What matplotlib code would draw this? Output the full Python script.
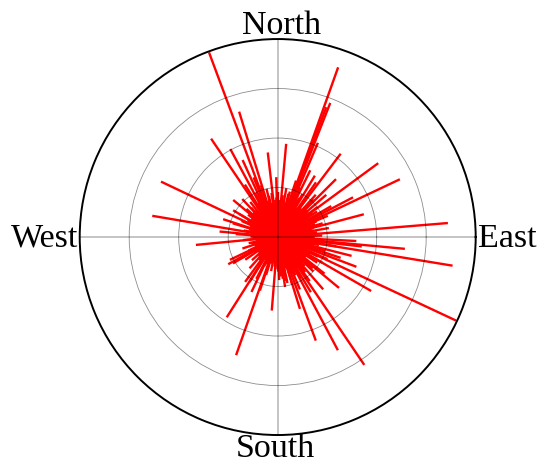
import numpy as np
import matplotlib
matplotlib.use("Agg")
import matplotlib.pyplot as plt

# Direction (degrees, counter-clockwise from East) and magnitude of each vector
long_angles = [110.4, 70.4, 68.6, 69.5, 66.9, 84.8, 52.9, 36.3, 25.3, 44.8,
               58.8, 27.8, 14.8, 4.7, 96.7, 91.4, 107.1, 124.1, 118.3, 114.5,
               154.6, 170.4, 140.2, 174.6, 161.9, 185.5, 208.8, 210.0, 237.6, 250.6,
               265.4, 287.2, 290.2, 298.0, 234.0, 244.5, 251.6, 272.0, 278.4, 304.1,
               334.9, 350.7, 354.7, 330.0, 320.3, 339.3, 353.6, 357.1, 341.7, 345.7,
               205.5, 210.5, 238.0, 149.0, 282.0]
long_mags = [3.98, 3.64, 2.91, 2.80, 2.07, 1.89, 2.11, 2.52, 2.73, 1.66,
             1.45, 1.72, 1.80, 3.45, 1.72, 1.21, 2.65, 2.40, 2.02, 1.71,
             2.61, 2.57, 1.17, 1.18, 1.16, 1.66, 1.14, 0.88, 1.92, 2.53,
             1.49, 1.52, 2.23, 2.59, 1.12, 1.23, 1.14, 0.87, 1.02, 3.12,
             3.98, 3.58, 2.58, 2.18, 1.61, 1.70, 1.71, 1.59, 1.34, 1.54,
             1.07, 1.05, 1.07, 1.05, 0.95]

short_angles = [2, 5, 8, 10, 12, 15, 17, 19, 21, 23, 26, 28, 30, 32, 34, 37, 39, 41,
                43, 46, 48, 50, 53, 55, 57, 60, 62, 64, 66, 72, 74, 76, 78, 80, 82,
                86, 88,
                92, 95, 98, 100, 103, 105, 108, 110, 112, 115, 117, 120, 122, 125,
                128, 130, 133, 136, 138, 143, 146, 149, 152, 156, 159, 163, 166, 169,
                172, 176, 178,
                182, 185, 188, 192, 195, 198, 202, 205, 212, 215, 218, 222, 225, 228,
                231, 236, 240, 243, 247, 253, 256, 259, 262, 266, 269,
                272, 275, 278, 281, 284, 287, 290, 293, 296, 299, 301, 304, 306, 309,
                311, 314, 316, 319, 322, 325, 327, 330, 333, 336, 338, 341, 344, 346,
                349, 351, 354, 356, 358]
short_mags = [0.90, 0.75, 0.60, 1.05, 0.70, 0.55, 0.95, 0.80, 0.65, 1.10, 0.70, 0.90,
              1.25, 0.60, 0.85, 1.00, 0.70, 1.30, 0.80, 0.90, 1.15, 0.65, 0.95, 1.35,
              0.70, 1.00, 0.85, 1.50, 0.75, 1.20, 0.80, 0.90, 0.70, 1.00, 0.60, 0.75,
              0.65,
              0.80, 0.60, 0.90, 0.70, 1.00, 0.75, 1.10, 0.85, 1.30, 0.70, 1.00, 0.80,
              1.25, 0.65, 0.90, 0.70, 1.05, 0.60, 0.85, 0.75, 0.60, 0.90, 0.55, 0.80,
              0.60, 0.95, 0.50, 0.70, 0.55, 0.85, 0.50,
              0.50, 0.70, 0.45, 0.60, 0.40, 0.75, 0.50, 0.65, 0.55, 0.80, 0.50, 0.70,
              0.45, 0.85, 0.60, 0.70, 0.50, 0.95, 0.60, 0.80, 0.55, 0.70, 0.50, 0.65,
              0.45,
              0.60, 0.80, 0.50, 0.90, 0.65, 1.00, 0.70, 1.15, 0.60, 0.95, 1.30, 0.75,
              1.10, 0.85, 1.40, 0.70, 1.00, 0.80, 1.20, 0.65, 0.95, 1.05, 0.75, 1.10,
              0.60, 0.90, 1.00, 0.70, 0.85, 1.20, 0.65, 0.95, 0.75]

core_angles = [1, 4, 7, 11, 14, 18, 22, 25, 29, 33, 36, 40, 44, 47, 51, 54, 58, 61,
               65, 68, 71, 75, 79, 83, 87, 90, 94, 97, 102, 106, 111, 114, 119, 124,
               127, 132, 135, 141, 145, 151, 158, 165, 171, 179, 187, 194, 201, 209,
               217, 226, 234, 245, 251, 258, 264, 271, 277, 283, 289, 295, 302, 308,
               313, 318, 324, 329, 334, 339, 343, 348, 353, 357]
core_mags = [0.55, 0.65, 0.80, 0.60, 0.75, 0.70, 0.85, 0.60, 0.75, 0.95, 0.65, 0.80,
             0.70, 1.05, 0.75, 0.85, 0.65, 0.90, 1.10, 0.80, 0.70, 0.95, 0.60, 0.85,
             0.70, 0.90, 0.75, 0.65, 0.85, 0.60, 0.80, 0.95, 0.65, 0.75, 0.55, 0.80,
             0.70, 0.55, 0.65, 0.70, 0.50, 0.60, 0.45, 0.55, 0.40, 0.55, 0.45, 0.60,
             0.40, 0.55, 0.50, 0.65, 0.45, 0.55, 0.60, 0.70, 0.85, 0.65, 0.75, 0.85,
             0.70, 0.90, 0.80, 0.95, 0.70, 0.85, 0.90, 0.65, 0.80, 0.70, 0.85, 0.60]

ring_values = [1, 2, 3]
r_max = 4
direction_labels = ["East", "North", "West", "South"]

fig = plt.figure(figsize=(5.41, 4.64), dpi=100)
ax = fig.add_axes([0.1473, 0.0603, 0.732, 0.8534], projection="polar")

angles = np.deg2rad(np.array(long_angles + short_angles + core_angles))
mags = np.array(long_mags + short_mags + core_mags)
ax.vlines(angles, 0, mags, colors="#ff0000", linewidth=1.7, zorder=2)

ax.set_ylim(0, r_max)
ax.set_yticks(ring_values)
ax.set_yticklabels([])
ax.set_xticks(np.deg2rad([0, 90, 180, 270]))
ax.set_xticklabels([])
ax.tick_params(length=0)
ax.yaxis.grid(True, color="black", alpha=0.45, linewidth=0.6)
ax.xaxis.grid(True, color="black", alpha=0.25, linewidth=1.3)
ax.set_axisbelow(False)
ax.spines["polar"].set_linewidth(1.4)
ax.spines["polar"].set_color("black")

font = dict(family="Liberation Serif", size=24.5, color="black")
ax.annotate(direction_labels[1], xy=(np.pi / 2, r_max), xytext=(2.7, 4.3),
            textcoords="offset points", ha="center", va="baseline", **font)
ax.annotate(direction_labels[3], xy=(3 * np.pi / 2, r_max), xytext=(-2, -15),
            textcoords="offset points", ha="center", va="baseline", **font)
ax.annotate(direction_labels[2], xy=(np.pi, r_max), xytext=(-1, -5.8),
            textcoords="offset points", ha="right", va="baseline", **font)
ax.annotate(direction_labels[0], xy=(0, r_max), xytext=(1.5, -6.8),
            textcoords="offset points", ha="left", va="baseline", **font)

fig.savefig("out.png", dpi=100)
